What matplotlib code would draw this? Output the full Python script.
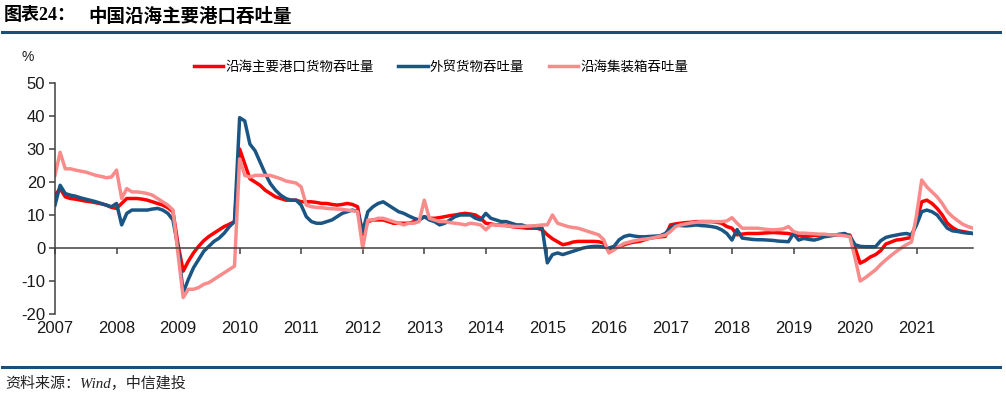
import numpy as np
import matplotlib
matplotlib.use('Agg')
import matplotlib.pyplot as plt
from matplotlib.lines import Line2D

plt.rcParams['font.family'] = ['Liberation Sans', 'Noto Sans CJK SC', 'DejaVu Sans']
plt.rcParams['axes.unicode_minus'] = False

start_year = 2007
years = list(range(2007, 2022))
year_labels = [str(y) for y in years]
y_ticks = [-20, -10, 0, 10, 20, 30, 40, 50]

series_names = ['沿海主要港口货物吞吐量', '外贸货物吞吐量', '沿海集装箱吞吐量']

# monthly cumulative YoY (%), Jan 2007 - Dec 2021
port_cargo = [
    16, 18, 15.5, 15, 14.8, 14.5, 14.2, 14, 13.7, 13.4, 13, 12.3,
    12, 13.5, 15, 15, 15, 14.8, 14.5, 14, 13.5, 13, 12.2, 11,
    1, -7, -4, -1.5, 0.5, 2.2, 3.5, 4.5, 5.5, 6.5, 7.2, 8,
    30, 25.5, 21, 20, 19, 17.5, 16.5, 15.5, 15, 14.5, 14.5, 14.5,
    14, 14, 14, 13.8, 13.5, 13.5, 13.2, 13, 13.2, 13.5, 13.2, 12.5,
    4, 8, 8.5, 8.5, 8.5, 8, 7.5, 7.5, 7.5, 7.5, 8, 8.5,
    9.5, 9, 9, 9.2, 9.5, 9.8, 10, 10.3, 10.5, 10.3, 10, 9,
    7.5, 7.3, 7, 7, 6.8, 6.5, 6.3, 6.2, 6, 6, 6, 5.5,
    4, 2.8, 1.9, 1, 1.3, 1.8, 2, 2, 2, 2, 1.9, 1.5,
    -1, 0, 0.4, 1, 1.5, 1.8, 2, 2.5, 3, 3.2, 3.4, 3.5,
    7, 7.3, 7.5, 7.7, 7.8, 8, 8, 8, 8, 7.8, 7.5, 6.5,
    6, 4, 4.2, 4.4, 4.4, 4.4, 4.5, 4.6, 4.7, 4.6, 4.5, 4.4,
    4, 3.8, 3.5, 3.6, 3.8, 3.9, 4, 4, 4, 4, 4, 3.9,
    0, -4.6, -3.8, -2.7, -2, -0.8, 1.2, 1.8, 2.4, 2.6, 2.9, 3.2,
    8, 14, 14.5, 13.5, 12, 10, 7.5, 6.2, 5.3, 5, 4.7, 4.4,
]

foreign_trade = [
    13, 19, 16.5, 16, 15.7, 15.2, 14.8, 14.4, 14, 13.5, 13, 12.5,
    13.5, 7, 10.5, 11.5, 11.5, 11.5, 11.5, 11.8, 12, 11.5, 10.5, 8.5,
    0, -13.5, -9.5, -6, -3.5, -1, 0.5, 2, 3, 4.5, 6.5, 8,
    39.5, 38.5, 31.5, 29.5, 26, 22.5, 19.5, 17.5, 16, 15, 14.5, 14.5,
    13, 9.5, 8, 7.5, 7.5, 8, 8.5, 9.5, 10.5, 11, 11.5, 11,
    5, 11, 12.5, 13.5, 14, 13, 12, 11, 10.5, 9.7, 9, 8.5,
    9.5, 8.5, 8, 7, 7.5, 8.5, 9.5, 10, 10, 10, 9, 8.5,
    10.5, 9, 8.5, 8, 8, 7.5, 7, 7, 6.5, 6.5, 6, 6,
    -4.5, -2, -1.5, -2, -1.5, -1, -0.5, 0, 0.3, 0.5, 0.5, 0.3,
    0, 0.5, 2.5, 3.5, 3.9, 3.6, 3.4, 3.4, 3.5, 3.6, 3.7, 4.4,
    6, 7, 6.8, 6.7, 6.8, 7, 6.8, 6.7, 6.5, 6.2, 5.5, 4.4,
    2.4, 5.6, 3, 2.8, 2.6, 2.5, 2.5, 2.4, 2.3, 2.1, 2, 1.9,
    4.4, 2.4, 2.9, 2.6, 2.4, 2.8, 3.4, 3.6, 3.9, 4.2, 4.4, 3.5,
    1, 0.5, 0.4, 0.4, 0.4, 2.2, 3.2, 3.6, 3.9, 4.2, 4.4, 4,
    7, 11, 11.5, 11, 10, 8, 6, 5.2, 5, 4.7, 4.5, 4.4,
]

container = [
    22, 29, 24, 24, 23.6, 23.3, 23, 22.5, 22, 21.7, 21.3, 21.5,
    23.6, 15, 18, 17, 17, 16.8, 16.5, 16, 15, 14, 13, 11.5,
    -2, -15, -12.5, -12.5, -12, -11, -10.5, -9.5, -8.5, -7.5, -6.5, -5.5,
    27, 22, 21.5, 22, 22, 22, 22, 21.5, 21, 20.3, 20, 19.7,
    18.5, 13, 12.5, 12.3, 12.2, 12, 11.9, 11.8, 11.7, 11.5, 11.3, 11,
    0, 8.5, 8.5, 9, 9, 8.5, 8, 7.5, 7, 7.5, 7.5, 8,
    14.5, 9, 8.5, 8, 8, 7.7, 7.5, 7.3, 7, 7.5, 7.3, 7,
    5.5, 7, 7, 6.8, 6.7, 6.6, 6.5, 6.5, 6.6, 6.7, 6.8, 7,
    7, 10, 7.5, 7, 6.5, 6.2, 6, 5.5, 5, 4.5, 4, 2.5,
    -1.5, -0.6, 0.5, 1.4, 1.8, 2.2, 2.5, 2.7, 2.9, 3.2, 3.6, 3.9,
    5, 6.5, 7, 7.3, 7.6, 7.8, 8, 8, 8, 8, 8, 8.2,
    9.2, 7.5, 6, 6, 6, 6, 5.8, 5.6, 5.5, 5.6, 5.8, 6.5,
    5, 4.5, 4.5, 4.4, 4.3, 4.2, 4.2, 4, 4, 3.9, 3.7, 3.4,
    -3, -10, -9, -7.8, -6.6, -5, -3.6, -2.3, -1.1, 0, 1, 1.8,
    10, 20.6, 18.5, 17, 15.5, 13.5, 11, 9.5, 8.3, 7.2, 6.5, 6,
]

colors = ['#ff0000', '#1b5583', '#f98b8b']
W, H = 1006, 397

fig = plt.figure(figsize=(W / 100, H / 100), dpi=100)
ax = fig.add_axes([55 / W, 1 - 314 / H, (973 - 55) / W, (314 - 83) / H])

n = len(port_cargo)
x = start_year + np.arange(n) / 12.0
for vals, c, name in zip([port_cargo, foreign_trade, container], colors, series_names):
    ax.plot(x, vals, color=c, lw=2.5, label=name, solid_joinstyle='round')

ax.set_xlim(x[0], x[-1])
ax.set_ylim(-20, 50)
ax.set_yticks(y_ticks)
ax.set_yticklabels([str(v) for v in y_ticks])
axis_col = '#404040'
for s in ['top', 'right']:
    ax.spines[s].set_visible(False)
ax.spines['bottom'].set_position(('data', 0))
ax.spines['bottom'].set_color(axis_col)
ax.spines['left'].set_color(axis_col)
ax.spines['bottom'].set_linewidth(1.1)
ax.spines['left'].set_linewidth(1.1)
ax.set_xticks(years)
ax.set_xticklabels([])
ax.tick_params(axis='x', direction='out', length=4, width=1.1, color=axis_col)
ax.tick_params(axis='y', direction='out', length=4, width=1.1, color=axis_col,
               labelsize=12, labelcolor='#1a1a1a', pad=3)
for yr, lab in zip(years, year_labels):
    ax.annotate(lab, xy=(yr, 0), xycoords=('data', 'axes fraction'),
                xytext=(0, -5), textcoords='offset points',
                ha='center', va='top', fontsize=12, color='#1a1a1a')

fig.text(28 / W, 1 - 57 / H, '%', ha='center', va='center', fontsize=10, color='#1a1a1a')

fig.legend(loc='center', bbox_to_anchor=(441 / W, 1 - 67 / H), ncol=3, frameon=False,
           handlelength=2.2, handletextpad=0.15, columnspacing=1.8,
           prop={'family': ['Noto Sans CJK SC'], 'size': 9.7})

# title
fig.text(4 / W, 1 - 16 / H, '图表24：', fontsize=13, fontweight='bold', va='center',
         family=['Liberation Serif', 'Noto Sans CJK SC'])
fig.text(88 / W, 1 - 16 / H, '中国沿海主要港口吞吐量', fontsize=13.3, fontweight='bold',
         va='center', family=['Noto Sans CJK SC'])

rule_col = '#1a4f7a'
fig.add_artist(Line2D([2 / W, 1000 / W], [1 - 32 / H] * 2, color=rule_col, lw=2.2,
                      transform=fig.transFigure))
fig.add_artist(Line2D([2 / W, 1000 / W], [1 - 366.5 / H] * 2, color=rule_col, lw=2.2,
                      transform=fig.transFigure))

fig.text(5 / W, 1 - 383.5 / H, '资料来源：Wind，中信建投', fontsize=10.8, style='italic',
         va='center', color='#222222', family=['Liberation Serif', 'Noto Sans CJK SC'])

fig.savefig('out.png', dpi=100)
